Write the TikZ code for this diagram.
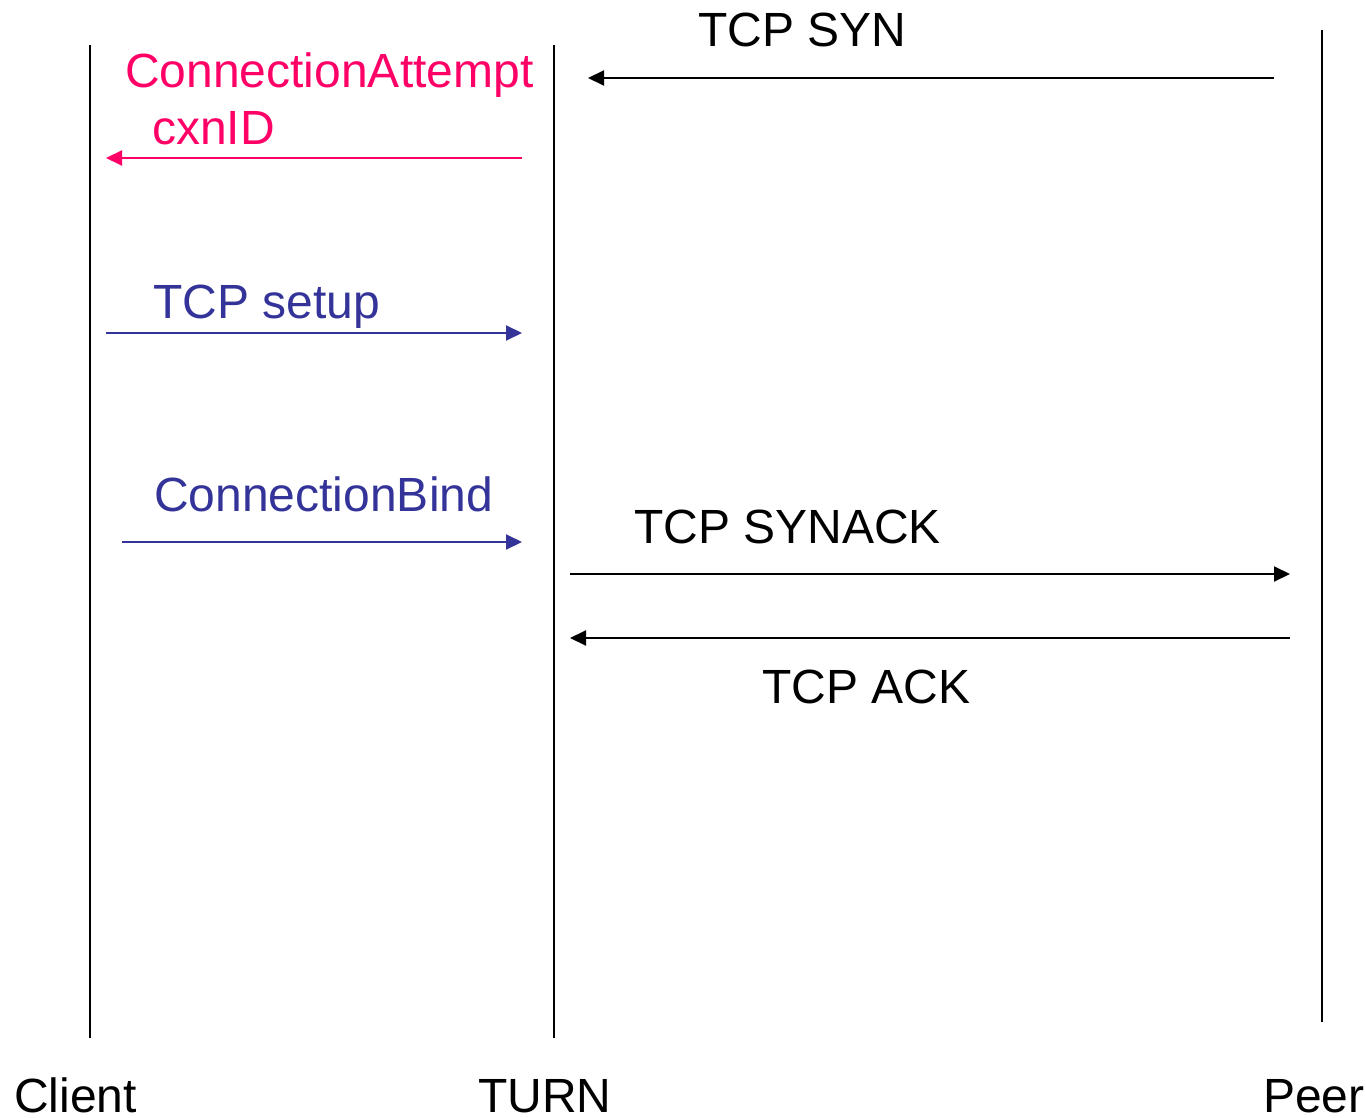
\documentclass[tikz,border=0pt]{standalone}
\usepackage{fontspec}
\setmainfont{Liberation Sans}
\usetikzlibrary{arrows.meta}
\definecolor{msgpink}{HTML}{FF0066}
\definecolor{msgblue}{HTML}{333399}
\begin{document}
\begin{tikzpicture}[x=1pt,y=-1pt,
  lifeline/.style={line width=2.2pt,black},
  msg/.style={line width=2pt,-{Triangle[length=16pt,width=15pt]}},
  lbl/.style={anchor=base west,inner sep=0pt,font=\fontsize{48}{56}\selectfont}]
\useasboundingbox (0,0) rectangle (1366,1118);
% lifelines
\coordinate (c1) at (90,45); \coordinate (c2) at (90,1038);
\coordinate (t1) at (554,45); \coordinate (t2) at (554,1038);
\coordinate (p1) at (1322,30); \coordinate (p2) at (1322,1022);
\draw[lifeline] (c1) -- (c2);
\draw[lifeline] (t1) -- (t2);
\draw[lifeline] (p1) -- (p2);
% message endpoints
\coordinate (synA) at (1274,78); \coordinate (synB) at (588,78);
\coordinate (caA) at (522,158); \coordinate (caB) at (106,158);
\coordinate (tsA) at (106,333); \coordinate (tsB) at (522,333);
\coordinate (cbA) at (122,542); \coordinate (cbB) at (522,542);
\coordinate (saA) at (570,574); \coordinate (saB) at (1290,574);
\coordinate (akA) at (1290,638); \coordinate (akB) at (570,638);
\draw[msg] (synA) -- (synB);
\draw[msg,msgpink] (caA) -- (caB);
\draw[msg,msgblue] (tsA) -- (tsB);
\draw[msg,msgblue] (cbA) -- (cbB);
\draw[msg] (saA) -- (saB);
\draw[msg] (akA) -- (akB);
% labels
\node[lbl] (lsyn) at (698,47) {TCP SYN};
\node[lbl,text=msgpink] (lca) at (125,88) {ConnectionAttempt};
\node[lbl,text=msgpink] (lcx) at (152,145) {cxnID};
\node[lbl,text=msgblue] (lts) at (153,318) {TCP setup};
\node[lbl,text=msgblue] (lcb) at (154,511) {ConnectionBind};
\node[lbl] (lsa) at (634,543) {TCP SYNACK};
\node[lbl] (lak) at (762,703) {TCP ACK};
\node[lbl] (lcl) at (14,1112) {Client};
\node[lbl] (ltu) at (478,1112) {TURN};
\node[lbl] (lpe) at (1263,1112) {Peer};
\end{tikzpicture}
\end{document}
